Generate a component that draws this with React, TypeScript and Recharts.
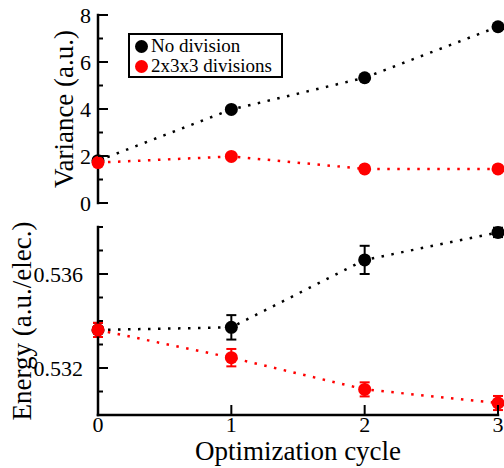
import React from "react";
import { ComposedChart, Line, XAxis, YAxis, ErrorBar, Legend } from "recharts";

const cycles = [0, 1, 2, 3];

const varianceNoDivision = [1.8, 3.98, 5.33, 7.5];
const varianceDivisions = [1.72, 1.98, 1.45, 1.45];

const energyNoDivision = [0.53362, 0.53373, 0.5366, 0.53777];
const energyNoDivisionErr = [0.0003, 0.00052, 0.0006, 0.0002];
const energyDivisions = [0.53362, 0.53244, 0.53109, 0.53051];
const energyDivisionsErr = [0.0003, 0.00037, 0.0003, 0.0003];

const varianceTicks = [0, 1, 2, 3, 4, 5, 6, 7, 8];
const varianceMajor = [0, 2, 4, 6, 8];
const energyTicks = [0.53, 0.531, 0.532, 0.533, 0.534, 0.535, 0.536, 0.537, 0.538];
const energyMajor = [0.532, 0.536];

const seriesNames = ["No division", "2x3x3 divisions"];

const FONT = "'Liberation Serif', 'Times New Roman', serif";
const BLACK = "#000000";
const RED = "#ff0000";

const varianceData = cycles.map((c, i) => ({
  cycle: c,
  noDiv: varianceNoDivision[i],
  div: varianceDivisions[i],
}));

const energyData = cycles.map((c, i) => ({
  cycle: c,
  noDiv: energyNoDivision[i],
  noDivErr: energyNoDivisionErr[i],
  div: energyDivisions[i],
  divErr: energyDivisionsErr[i],
}));

const isMajor = (v: number, majors: number[]) =>
  majors.some((m) => Math.abs(m - v) < 1e-9);

// inward tick (and optional label) drawn at the axis line position
function InwardTick(props: any) {
  const { x, y, payload, side, majors, labels, gap = 8, fmt } = props;
  const v = payload.value;
  const major = isMajor(v, majors);
  const len = major ? 10 : 5;
  let line;
  if (side === "left") line = <line x1={x} y1={y} x2={x + len} y2={y} />;
  else if (side === "right") line = <line x1={x} y1={y} x2={x - len} y2={y} />;
  else if (side === "top") line = <line x1={x} y1={y} x2={x} y2={y + len} />;
  else line = <line x1={x} y1={y} x2={x} y2={y - len} />;
  const showLabel = labels && isMajor(v, labels);
  return (
    <g>
      <g stroke={BLACK} strokeWidth={2}>{line}</g>
      {showLabel && side === "left" && (
        <text
          x={x - gap}
          y={y}
          textAnchor="end"
          dominantBaseline="central"
          style={{ fontFamily: FONT, fontSize: 22 }}
          fill={BLACK}
        >
          {fmt ? fmt(v) : v}
        </text>
      )}
      {showLabel && side === "bottom" && (
        <text
          x={x}
          y={y + gap}
          textAnchor="middle"
          style={{ fontFamily: FONT, fontSize: 22 }}
          fill={BLACK}
        >
          {v}
        </text>
      )}
    </g>
  );
}

function YTitle({ viewBox, text, dx }: any) {
  const cx = viewBox.x + dx;
  const cy = viewBox.y + viewBox.height / 2;
  return (
    <text
      x={cx}
      y={cy}
      transform={`rotate(-90 ${cx} ${cy})`}
      textAnchor="middle"
      dominantBaseline="central"
      style={{ fontFamily: FONT, fontSize: 27 }}
      fill={BLACK}
    >
      {text}
    </text>
  );
}

function XTitle({ viewBox, text }: any) {
  return (
    <text
      x={viewBox.x + viewBox.width / 2}
      y={viewBox.y + 45}
      textAnchor="middle"
      style={{ fontFamily: FONT, fontSize: 27 }}
      fill={BLACK}
    >
      {text}
    </text>
  );
}

function LegendBox({ payload }: any) {
  const items = [...(payload || [])].sort(
    (a: any, b: any) => seriesNames.indexOf(a.value) - seriesNames.indexOf(b.value)
  );
  return (
    <div
      style={{
        width: 155,
        height: 45,
        boxSizing: "border-box",
        border: "2px solid #000",
        background: "#fff",
        padding: "1px 4px 0 5px",
        fontFamily: FONT,
        fontSize: 19,
        lineHeight: "20px",
        color: BLACK,
        textAlign: "left",
      }}
    >
      {items.map((e: any) => (
        <div key={e.value} style={{ display: "flex", alignItems: "center", whiteSpace: "nowrap" }}>
          <span
            style={{
              display: "inline-block",
              width: 13,
              height: 13,
              borderRadius: "50%",
              background: e.color,
              marginRight: 3,
            }}
          />
          {e.value}
        </div>
      ))}
    </div>
  );
}

const frame = { stroke: BLACK, strokeWidth: 2.5, strokeLinecap: "square" as const };

const dotted = { strokeWidth: 2.5, strokeDasharray: "2.5 7.5" };

export default function App() {
  return (
    <div style={{ position: "absolute", left: 0, top: 0, width: 504, height: 468, background: "#fff" }}>
      <div style={{ position: "absolute", left: 0, top: 0 }}>
        <ComposedChart
          width={504}
          height={215}
          data={varianceData}
          margin={{ top: 15, right: 6, bottom: 12, left: 0 }}
        >
          <XAxis
            xAxisId="b"
            dataKey="cycle"
            type="number"
            domain={[0, 3]}
            ticks={cycles}
            height={0}
            tickSize={0}
            tickMargin={0}
            tickLine={false}
            axisLine={frame}
            tick={(p: any) => <InwardTick {...p} side="bottom" majors={cycles} />}
          />
          <XAxis
            xAxisId="t"
            orientation="top"
            type="number"
            domain={[0, 3]}
            ticks={cycles}
            height={0}
            tickSize={0}
            tickMargin={0}
            tickLine={false}
            axisLine={frame}
            tick={(p: any) => <InwardTick {...p} side="top" majors={cycles} />}
          />
          <YAxis
            yAxisId="l"
            type="number"
            domain={[0, 8]}
            ticks={varianceTicks}
            width={98}
            tickSize={0}
            tickMargin={0}
            tickLine={false}
            axisLine={frame}
            tick={(p: any) => (
              <InwardTick {...p} side="left" majors={varianceMajor} labels={varianceMajor} gap={7} />
            )}
            label={{ content: (p: any) => <YTitle {...p} text="Variance (a.u.)" dx={64} /> }}
          />
          <YAxis
            yAxisId="r"
            orientation="right"
            type="number"
            domain={[0, 8]}
            ticks={varianceTicks}
            width={0}
            tickSize={0}
            tickMargin={0}
            tickLine={false}
            axisLine={frame}
            tick={(p: any) => <InwardTick {...p} side="right" majors={varianceMajor} />}
          />
          <Legend
            layout="vertical"
            align="center"
            verticalAlign="middle"
            wrapperStyle={{ left: 128, top: 33, width: 155 }}
            content={<LegendBox />}
          />
          <Line
            xAxisId="b"
            yAxisId="l"
            dataKey="noDiv"
            name={seriesNames[0]}
            stroke={BLACK}
            {...dotted}
            dot={{ r: 6.5, fill: BLACK, stroke: "none" }}
            isAnimationActive={false}
          />
          <Line
            xAxisId="b"
            yAxisId="l"
            dataKey="div"
            name={seriesNames[1]}
            stroke={RED}
            {...dotted}
            dot={{ r: 6.5, fill: RED, stroke: "none" }}
            isAnimationActive={false}
          />
        </ComposedChart>
      </div>
      <div style={{ position: "absolute", left: 0, top: 210 }}>
        <ComposedChart
          width={504}
          height={258}
          data={energyData}
          margin={{ top: 17, right: 6, bottom: 0, left: 0 }}
        >
          <XAxis
            xAxisId="b"
            dataKey="cycle"
            type="number"
            domain={[0, 3]}
            ticks={cycles}
            height={53}
            tickSize={0}
            tickMargin={0}
            tickLine={false}
            axisLine={frame}
            tick={(p: any) => (
              <InwardTick {...p} side="bottom" majors={cycles} labels={cycles} gap={17} />
            )}
            label={{ content: (p: any) => <XTitle {...p} text="Optimization cycle" /> }}
          />
          <XAxis
            xAxisId="t"
            orientation="top"
            type="number"
            domain={[0, 3]}
            ticks={cycles}
            height={0}
            tickSize={0}
            tickMargin={0}
            tickLine={false}
            axisLine={frame}
            tick={(p: any) => <InwardTick {...p} side="top" majors={cycles} />}
          />
          <YAxis
            yAxisId="l"
            type="number"
            domain={[0.53, 0.538]}
            ticks={energyTicks}
            width={98}
            tickSize={0}
            tickMargin={0}
            tickLine={false}
            axisLine={frame}
            tick={(p: any) => (
              <InwardTick
                {...p}
                side="left"
                majors={energyMajor}
                labels={energyMajor}
                gap={15}
                fmt={(v: number) => v.toFixed(3)}
              />
            )}
            label={{ content: (p: any) => <YTitle {...p} text="Energy (a.u./elec.)" dx={22} /> }}
          />
          <YAxis
            yAxisId="r"
            orientation="right"
            type="number"
            domain={[0.53, 0.538]}
            ticks={energyTicks}
            width={0}
            tickSize={0}
            tickMargin={0}
            tickLine={false}
            axisLine={frame}
            tick={(p: any) => <InwardTick {...p} side="right" majors={energyMajor} />}
          />
          <Line
            xAxisId="b"
            yAxisId="l"
            dataKey="noDiv"
            name={seriesNames[0]}
            stroke={BLACK}
            {...dotted}
            dot={{ r: 6.5, fill: BLACK, stroke: "none" }}
            isAnimationActive={false}
          >
            <ErrorBar dataKey="noDivErr" direction="y" width={5} stroke={BLACK} strokeWidth={2} />
          </Line>
          <Line
            xAxisId="b"
            yAxisId="l"
            dataKey="div"
            name={seriesNames[1]}
            stroke={RED}
            {...dotted}
            dot={{ r: 6.5, fill: RED, stroke: "none" }}
            isAnimationActive={false}
          >
            <ErrorBar dataKey="divErr" direction="y" width={5} stroke={RED} strokeWidth={2} />
          </Line>
        </ComposedChart>
      </div>
    </div>
  );
}
